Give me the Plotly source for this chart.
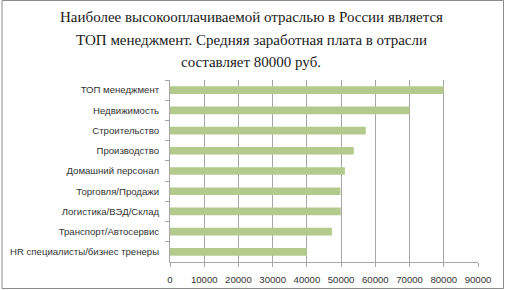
import plotly.graph_objects as go

categories = ["ТОП менеджмент", "Недвижимость", "Строительство", "Производство",
              "Домашний персонал", "Торговля/Продажи", "Логистика/ВЭД/Склад",
              "Транспорт/Автосервис", "HR специалисты/бизнес тренеры"]
values = [80000, 70000, 57200, 53700, 51100, 49800, 49900, 47300, 40000]
x_ticks = [0, 10000, 20000, 30000, 40000, 50000, 60000, 70000, 80000, 90000]
title_lines = ["Наиболее высокооплачиваемой отраслью в России является",
               "ТОП менеджмент. Средняя заработная плата в отрасли",
               "составляет 80000 руб."]

fig = go.Figure(go.Bar(
    x=values, y=categories, orientation="h",
    marker=dict(color="#b3ca8c", line=dict(width=0)),
    width=0.38,
))

fig.update_layout(
    width=505, height=290,
    margin=dict(l=170, r=27, t=80, b=28, autoexpand=False),
    paper_bgcolor="white", plot_bgcolor="white",
    showlegend=False,
    font=dict(family="Liberation Sans", size=9.6, color="#333333"),
    xaxis=dict(range=[0, 90000], tickvals=x_ticks, ticktext=[str(v) for v in x_ticks],
               showgrid=True, gridcolor="#a6a6a6", gridwidth=1,
               showline=True, linecolor="#a6a6a6", ticks="outside", ticklen=4,
               tickcolor="#a6a6a6", zeroline=False, fixedrange=True,
               automargin=False, ticklabelstandoff=4),
    yaxis=dict(autorange="reversed", type="category", showline=True, linecolor="#a6a6a6",
               ticks="outside", tickson="boundaries", ticklen=4, tickcolor="#a6a6a6",
               showgrid=False, fixedrange=True, ticklabelstandoff=8, automargin=False),
)

ys = [17, 40, 62]
for line, y in zip(title_lines, ys):
    fig.add_annotation(text=line, xref="paper", yref="paper",
                       x=(251 - 170) / (505 - 170 - 27), y=1 + (80 - y) / 182,
                       showarrow=False, xanchor="center", yanchor="middle",
                       font=dict(family="Liberation Serif", size=15, color="#1a1a1a"))

fig.add_shape(type="rect", xref="paper", yref="paper",
              x0=-168 / 308, x1=(308 + 25.5) / 308, y0=(-26.5) / 182, y1=(182 + 79.5) / 182,
              line=dict(color="#8c8c8c", width=1))

fig.write_html("out.html")
